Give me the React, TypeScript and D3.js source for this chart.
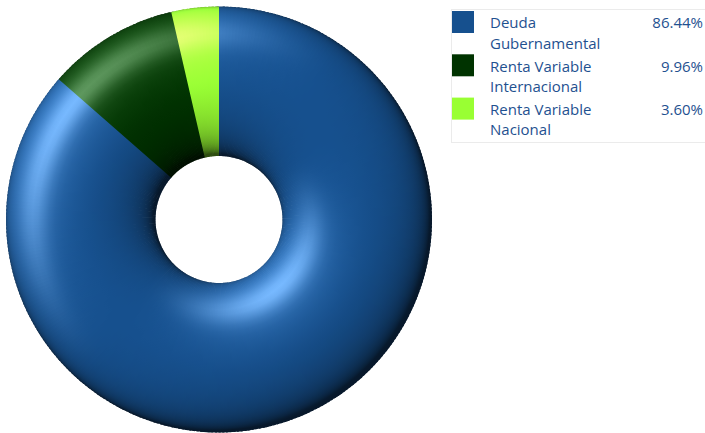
import React from 'react';
import * as d3 from 'd3';

const categories = ['Deuda Gubernamental', 'Renta Variable Internacional', 'Renta Variable Nacional'];
const labelLines = [['Deuda', 'Gubernamental'], ['Renta Variable', 'Internacional'], ['Renta Variable', 'Nacional']];
const values = [86.44, 9.96, 3.6];
const percentLabels = ['86.44%', '9.96%', '3.60%'];
const colors = ['#16508e', '#003300', '#99ff33'];

const W = 705, H = 433;
const CX = 219, CY = 219.5, RO = 213, RI = 63.5;

// lighting parameters
const ELEV = (55 * Math.PI) / 180;
const AZ = (-135 * Math.PI) / 180;
const FLAT = 0.5;
const KA = 0.3;
const KD = (1 - KA) / Math.sin(ELEV);
const KS = 0.27, KB = 0.1;
const PSI_O = (-142 * Math.PI) / 180, PSI_I = (50 * Math.PI) / 180;
const S0 = 0.64, SIG = 0.2, SIGB = 0.5;

function shade(base: d3.RGBColor, psi: number, s: number): string {
  const sc = Math.max(-0.999, Math.min(0.999, s));
  const slope = (FLAT * sc) / Math.sqrt(1 - sc * sc);
  const len = Math.sqrt(slope * slope + 1);
  const nx = (slope * Math.cos(psi)) / len, ny = (slope * Math.sin(psi)) / len, nz = 1 / len;
  const lx = Math.cos(ELEV) * Math.cos(AZ), ly = Math.cos(ELEV) * Math.sin(AZ), lz = Math.sin(ELEV);
  const d = Math.max(0, nx * lx + ny * ly + nz * lz);
  const f = KA + KD * d;
  const wo = Math.max(0, Math.cos(psi - PSI_O)) ** 1.8;
  const wi = Math.max(0, Math.cos(psi - PSI_I)) ** 1.8;
  const sp =
    KS * (wo * Math.exp(-(((s - S0) / SIG) ** 2)) + wi * Math.exp(-(((s + S0) / SIG) ** 2))) +
    KB * (wo * Math.exp(-(((s - S0) / SIGB) ** 2)) + wi * Math.exp(-(((s + S0) / SIGB) ** 2)));
  const c = (v: number) => Math.max(0, Math.min(255, Math.round(v * f + 255 * sp)));
  return d3.rgb(c(base.r), c(base.g), c(base.b)).formatHex();
}

export default function App() {
  const pie = d3.pie<number>().sort(null).value((d) => d);
  const arcs = pie(values);
  const arcGen = d3.arc<any>();
  const step = (1 * Math.PI) / 180;
  const pad = (0.6 * Math.PI) / 180;
  const NS = 36;

  const wedges: { id: string; path: string; stops: { o: number; c: string }[] }[] = [];
  const total = arcs.length;
  arcs.forEach((a, i) => {
    const base = d3.rgb(colors[i]);
    const n = Math.max(1, Math.ceil((a.endAngle - a.startAngle) / step));
    const da = (a.endAngle - a.startAngle) / n;
    for (let k = 0; k < n; k++) {
      const a0 = a.startAngle + k * da;
      const a1 = a0 + da;
      const isLast = i === total - 1 && k === n - 1;
      const isFirst = i === 0 && k === 0;
      const mid = (a0 + a1) / 2;
      const psi = mid - Math.PI / 2;
      const stops: { o: number; c: string }[] = [];
      for (let j = 0; j <= NS; j++) {
        const s = -Math.cos((Math.PI * j) / NS);
        const r = RI + ((s + 1) / 2) * (RO - RI);
        stops.push({ o: r / RO, c: shade(base, psi, s) });
      }
      const path = arcGen({
        innerRadius: RI,
        outerRadius: RO,
        startAngle: isFirst ? a0 - pad : a0,
        endAngle: isLast ? a1 : a1 + pad,
      }) as string;
      wedges.push({ id: `g${i}_${k}`, path, stops });
    }
  });

  const legendX = 451.5, legendY = 9.5;
  const rowH = 43.3;

  return (
    <svg width={W} height={H} style={{ position: 'absolute', left: 0, top: 0 }} fontFamily="'Open Sans', sans-serif">
      <defs>
        {wedges.map((w) => (
          <radialGradient key={w.id} id={w.id} gradientUnits="userSpaceOnUse" cx={0} cy={0} r={RO} fx={0} fy={0}>
            {w.stops.map((s, j) => (
              <stop key={j} offset={s.o} stopColor={s.c} />
            ))}
          </radialGradient>
        ))}
      </defs>
      <g transform={`translate(${CX},${CY})`}>
        {wedges.map((w) => (
          <path key={w.id} d={w.path} fill={`url(#${w.id})`} />
        ))}
      </g>
      <g>
        <rect x={legendX} y={legendY} width={270} height={133} fill="#fff" stroke="#ebebeb" strokeWidth={1} />
        {categories.map((c, i) => (
          <g key={c} transform={`translate(0,${i * rowH})`}>
            <rect x={452} y={11} width={22} height={22} fill={colors[i]} />
            <text x={490} y={28.3} fontSize={15} fill="#1f5190">
              {labelLines[i][0]}
            </text>
            <text x={490} y={48.6} fontSize={15} fill="#1f5190">
              {labelLines[i][1]}
            </text>
            <text x={703} y={28.3} fontSize={15} fill="#1f5190" textAnchor="end">
              {percentLabels[i]}
            </text>
          </g>
        ))}
      </g>
    </svg>
  );
}
